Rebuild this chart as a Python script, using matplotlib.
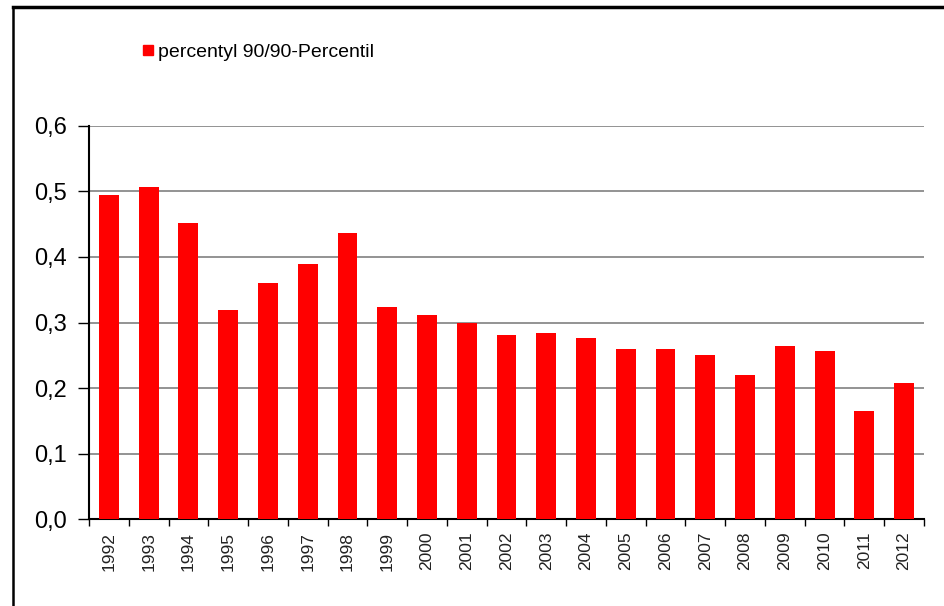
import matplotlib.pyplot as plt
from matplotlib.lines import Line2D
from matplotlib.ticker import FixedLocator, FuncFormatter

years = [str(y) for y in range(1992, 2013)]
values = [0.494, 0.507, 0.452, 0.319, 0.360, 0.389, 0.436, 0.323, 0.311, 0.299,
          0.281, 0.284, 0.276, 0.260, 0.260, 0.251, 0.220, 0.264, 0.257, 0.165, 0.208]
series_label = "percentyl 90/90-Percentil"
y_ticks = [0.0, 0.1, 0.2, 0.3, 0.4, 0.5, 0.6]

plt.rcParams["font.family"] = ["Liberation Sans", "DejaVu Sans"]

W, H = 944, 606
fig = plt.figure(figsize=(W / 100, H / 100), dpi=100)
ax = fig.add_axes([89 / W, 1 - 519.3 / H, (924 - 89) / W, (519.3 - 125.7) / H])

x = list(range(len(years)))
ax.bar(x, values, width=0.5, color="#ff0000", zorder=3, label=series_label)

ax.set_xlim(-0.5, len(years) - 0.5)
ax.set_ylim(0, 0.6)
ax.set_yticks(y_ticks)
ax.yaxis.set_major_formatter(FuncFormatter(lambda v, _: f"{v:.1f}".replace(".", ",")))
ax.yaxis.grid(True, color="#808080", linewidth=1.2, zorder=0)
ax.set_axisbelow(True)

ax.set_xticks(x)
ax.set_xticklabels(years, rotation=90, fontsize=12.5, color="#222222")
ax.xaxis.set_minor_locator(FixedLocator([i + 0.5 for i in range(-1, len(years))]))
ax.tick_params(axis="x", which="major", length=0, pad=9)
ax.tick_params(axis="x", which="minor", length=5, width=1, color="black")
ax.tick_params(axis="y", length=8, width=1, labelsize=17, pad=8, colors="black")

for side in ("top", "right"):
    ax.spines[side].set_visible(False)
ax.spines["left"].set_linewidth(1.5)
ax.spines["bottom"].set_linewidth(1.5)

handle = Line2D([], [], marker="s", linestyle="none", markersize=7.5,
                markerfacecolor="#ff0000", markeredgecolor="#ff0000")
fig.legend([handle], [series_label], loc="center left",
           bbox_to_anchor=(141 / W, 1 - 52 / H), frameon=False,
           fontsize=14, handlelength=0.7, handletextpad=0.2,
           borderaxespad=0, borderpad=0)

# outer chart frame (top and left edges visible in the crop)
fig.add_artist(Line2D([12.5 / W, 1.0], [1 - 7 / H, 1 - 7 / H], color="black", linewidth=2.5,
                      transform=fig.transFigure))
fig.add_artist(Line2D([12.5 / W, 12.5 / W], [0.0, 1 - 7 / H], color="black", linewidth=1.8,
                      transform=fig.transFigure))

fig.savefig("out.png", dpi=100)
